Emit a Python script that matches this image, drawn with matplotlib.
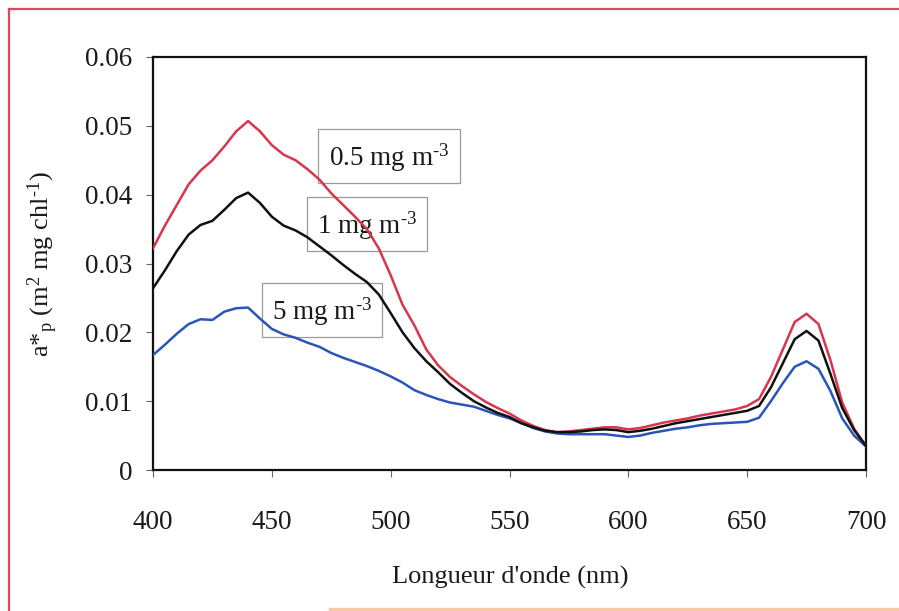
import matplotlib
matplotlib.use('Agg')
import matplotlib.pyplot as plt
from matplotlib.patches import Rectangle
from matplotlib.lines import Line2D
import numpy as np

W, H, DPI = 899, 611, 100

plt.rcParams['font.family'] = ['Liberation Serif', 'DejaVu Serif']
plt.rcParams['mathtext.fontset'] = 'custom'
plt.rcParams['mathtext.rm'] = 'Liberation Serif'
plt.rcParams['mathtext.it'] = 'Liberation Serif:italic'

# ── data ─────────────────────────────────────────────────────────────────────
wavelength = np.arange(400, 701, 5)

chl_05 = [0.0322, 0.0355, 0.0385, 0.0415, 0.0435, 0.0450, 0.0470, 0.0492, 0.0507, 0.0492,
          0.0472, 0.0458, 0.0450, 0.0437, 0.0422, 0.0402, 0.0385, 0.0368, 0.0350, 0.0322,
          0.0283, 0.0240, 0.0210, 0.0175, 0.0152, 0.0135, 0.0122, 0.0110, 0.0099, 0.0090,
          0.0082, 0.0072, 0.0064, 0.0058, 0.0055, 0.0056, 0.0058, 0.0060, 0.0062, 0.0062,
          0.0059, 0.0061, 0.0065, 0.0069, 0.0072, 0.0075, 0.0079, 0.0082, 0.0085, 0.0088,
          0.0093, 0.0103, 0.0135, 0.0175, 0.0215, 0.0227, 0.0212, 0.0160, 0.0098, 0.0060,
          0.0035]

chl_1 = [0.0264, 0.0290, 0.0318, 0.0342, 0.0356, 0.0362, 0.0378, 0.0395, 0.0403, 0.0388,
         0.0368, 0.0355, 0.0348, 0.0338, 0.0325, 0.0312, 0.0298, 0.0285, 0.0273, 0.0255,
         0.0228, 0.0200, 0.0177, 0.0158, 0.0142, 0.0125, 0.0112, 0.0100, 0.0091, 0.0083,
         0.0077, 0.0068, 0.0062, 0.0057, 0.0055, 0.0055, 0.0056, 0.0058, 0.0059, 0.0058,
         0.0055, 0.0057, 0.0060, 0.0064, 0.0068, 0.0071, 0.0074, 0.0077, 0.0080, 0.0083,
         0.0086, 0.0093, 0.0120, 0.0155, 0.0190, 0.0202, 0.0188, 0.0140, 0.0090, 0.0058,
         0.0035]

chl_5 = [0.0167, 0.0182, 0.0198, 0.0212, 0.0219, 0.0218, 0.0230, 0.0235, 0.0236, 0.0220,
         0.0205, 0.0197, 0.0192, 0.0185, 0.0179, 0.0170, 0.0163, 0.0157, 0.0151, 0.0144,
         0.0136, 0.0127, 0.0116, 0.0109, 0.0103, 0.0098, 0.0095, 0.0092, 0.0086, 0.0080,
         0.0075, 0.0068, 0.0061, 0.0056, 0.0053, 0.0052, 0.0052, 0.0052, 0.0052, 0.0050,
         0.0048, 0.0050, 0.0054, 0.0057, 0.0060, 0.0062, 0.0065, 0.0067, 0.0068, 0.0069,
         0.0070, 0.0076, 0.0100, 0.0126, 0.0150, 0.0158, 0.0147, 0.0115, 0.0075, 0.0050,
         0.0034]

series_labels = [r'0.5 mg m$^{\text{-3}}$', r'1 mg m$^{\text{-3}}$', r'5 mg m$^{\text{-3}}$']
x_ticks = [400, 450, 500, 550, 600, 650, 700]
y_ticks = [0, 0.01, 0.02, 0.03, 0.04, 0.05, 0.06]
y_ticklabels = ['0', '0.01', '0.02', '0.03', '0.04', '0.05', '0.06']

# ── figure ───────────────────────────────────────────────────────────────────
fig = plt.figure(figsize=(W / DPI, H / DPI), dpi=DPI, facecolor='white')

def fx(px):
    return px / W

def fy(py):
    return 1 - py / H

ax = fig.add_axes([fx(153), fy(470), fx(866) - fx(153), fy(57) - fy(470)])

ax.plot(wavelength, chl_05, color='#d8364c', lw=1.8, zorder=5)
ax.plot(wavelength, chl_1, color='#111111', lw=1.8, zorder=6)
ax.plot(wavelength, chl_5, color='#2a55b8', lw=1.8, zorder=4)

ax.set_xlim(400, 700)
ax.set_ylim(0, 0.06)
ax.set_xticks(x_ticks)
ax.set_yticks(y_ticks)
ax.set_yticklabels(y_ticklabels)

for s in ax.spines.values():
    s.set_linewidth(1.6)
    s.set_color('#111111')

ax.tick_params(axis='both', direction='out', length=5, width=0.8, color='#666666',
               labelsize=19.5, labelcolor='#1a1a1a')
ax.tick_params(axis='x', pad=24)
ax.tick_params(axis='y', pad=10)

ax.set_xlabel("Longueur d'onde (nm)", fontsize=19, color='#1a1a1a', va='center')
ax.xaxis.set_label_coords(fx(510), fy(577), transform=fig.transFigure)
ax.set_ylabel(r'a*$_{\rm p}$ (m$^2$ mg chl$^{\text{-1}}$)', fontsize=19, color='#1a1a1a',
              va='center')
ax.yaxis.set_label_coords(fx(43), fy(264), transform=fig.transFigure)

# ── label boxes ──────────────────────────────────────────────────────────────
boxes = [(318, 129, 460, 183), (307, 197, 427, 251), (262, 283, 382, 337)]
for (x0, y0, x1, y1), lab in zip(boxes, series_labels):
    ax.add_patch(Rectangle((fx(x0), fy(y1)), fx(x1) - fx(x0), fy(y0) - fy(y1),
                           transform=fig.transFigure, fill=False, ec='#9a9a9a',
                           lw=0.9, zorder=2, clip_on=False))
    ax.text(fx((x0 + x1) / 2), fy((y0 + y1) / 2 + 2), lab, transform=fig.transFigure,
            ha='center', va='center', fontsize=19.5, color='#1a1a1a', zorder=3)

# ── red page frame ───────────────────────────────────────────────────────────
fig.add_artist(Line2D([fx(9), fx(9)], [fy(9), fy(611)], color='#dc4a62', lw=1.6))
fig.add_artist(Line2D([fx(9), fx(899)], [fy(9), fy(9)], color='#dc4a62', lw=1.6))
fig.add_artist(Line2D([fx(330), fx(899)], [fy(609), fy(609)], color='#f6c9a6', lw=2.5))

fig.savefig('out.png', dpi=DPI, facecolor='white')
